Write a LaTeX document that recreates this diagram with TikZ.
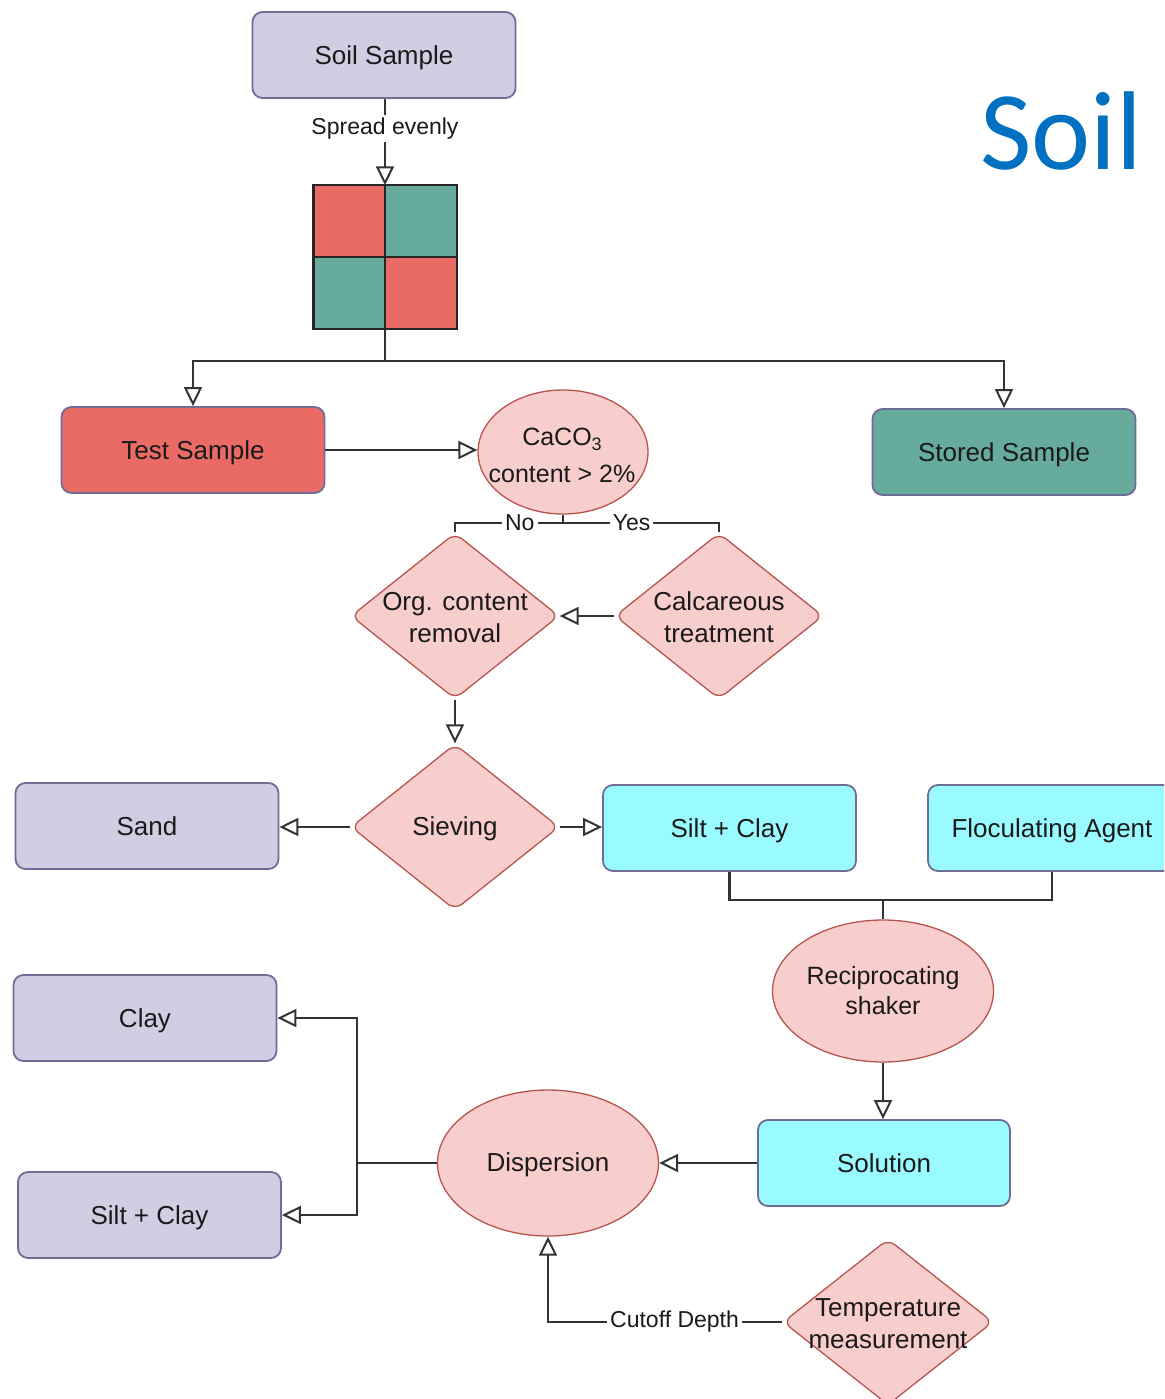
\documentclass[tikz,border=0pt]{standalone}
\usepackage{fontspec}
\setmainfont{Liberation Sans}
\newfontfamily\titlefont{Carlito}
\usetikzlibrary{shapes.geometric,arrows.meta}

\definecolor{lav}{HTML}{D0CEE2}
\definecolor{lavline}{HTML}{706C98}
\definecolor{pinkfill}{HTML}{F8CECC}
\definecolor{pinkline}{HTML}{B85450}
\definecolor{redfill}{HTML}{EA6B66}
\definecolor{tealfill}{HTML}{67AB9F}
\definecolor{cyanfill}{HTML}{99FBFF}
\definecolor{wire}{HTML}{333333}
\definecolor{txt}{HTML}{1A1A1A}
\definecolor{titleblue}{HTML}{0070C0}

\tikzset{
  box/.style={rectangle, rounded corners=10pt, draw=lavline, line width=1.8pt,
    minimum width=263pt, minimum height=86pt, inner sep=0pt,
    text height=18.5pt, text depth=0pt,
    font=\fontsize{26}{31}\selectfont, text=txt},
  oval/.style={ellipse, draw=pinkline, fill=pinkfill, line width=1.3pt, inner sep=0pt},
  dia/.style={diamond, draw=pinkline, fill=pinkfill, line width=1.3pt,
    rounded corners=9pt, minimum width=208pt, minimum height=166pt, inner sep=0pt},
  inner/.style={align=center, inner sep=0pt, font=\fontsize{26}{32}\selectfont, text=txt},
  plain/.style={draw=wire, line width=2.2pt},
  link/.style={plain, -{Triangle[open, length=19pt, width=18pt, line width=2pt]}},
  elabel/.style={fill=white, inner sep=3pt, font=\fontsize{23}{26}\selectfont, text=txt},
}

\begin{document}
\begin{tikzpicture}[x=1pt, y=-1pt]
\useasboundingbox (0,0) rectangle (1164,1399);
\clip (0,0) rectangle (1164,1399);

% title
\node[anchor=base west, inner sep=0pt, text=titleblue,
      font=\titlefont\fontsize{112}{112}\selectfont] (title) at (980,170) {Soil};

% sample preparation
\node[box, fill=lav] (soil) at (384,55) {Soil Sample};

\node[minimum size=143pt, inner sep=0pt] (grid) at (385,257) {};
\fill[redfill]  (grid.north west) rectangle (grid.center);
\fill[tealfill] (grid.north east) rectangle (grid.center);
\fill[tealfill] (grid.south west) rectangle (grid.center);
\fill[redfill]  (grid.south east) rectangle (grid.center);
\draw[line width=2.4pt, black!85] (grid.north west) rectangle (grid.south east)
  (grid.north) -- (grid.south) (grid.west) -- (grid.east);

\node[box, fill=redfill] (test) at (193,450) {Test Sample};
\node[box, fill=tealfill] (stored) at (1004,452) {Stored Sample};

\draw[link] (grid.north |- soil.south) -- node[elabel, pos=0.34] (spread) {Spread evenly} (grid.north);
\draw[plain] (grid.south) -- ++(0,32) coordinate (split);
\draw[link] (split) -| (test.north);
\draw[link] (split) -| (stored.north);

% carbonate check
\node[oval, minimum width=170pt, minimum height=124pt] (caco) at (563,452) {};
\node[inner, font=\fontsize{25}{37}\selectfont] (cacotext) at (562,455)
  {CaCO\raisebox{-0.4ex}{\fontsize{18}{18}\selectfont 3}\\content > 2\%};
\draw[link] (test.east) -- (test.east -| caco.west);

\node[dia] (org) at (455,616) {};
\node[inner] (orgtext) at ([yshift=-2pt]org.center) {Org. content\\removal};
\node[dia] (calc) at (719,616) {};
\node[inner] (calctext) at ([yshift=-1pt]calc.center) {Calcareous\\treatment};

\draw[plain] (caco.south) -- ++(0,8) coordinate (fork);
\draw[plain] (fork) -| node[elabel, pos=0.2] (no) {No} (org.north);
\draw[plain] (fork) -| node[elabel, pos=0.22] (yes) {Yes} (calc.north);
\draw[link] (calc.west) -- (org.east);

% sieving
\node[dia] (sieve) at (455,827) {};
\node[inner] (sievetext) at ([yshift=-2pt]sieve.center) {Sieving};
\draw[link] (org.south) -- (sieve.north);

\node[box, fill=lav] (sand) at (147,826) {Sand};
\node[box, fill=cyanfill, minimum width=253pt] (silt) at (729.5,828) {Silt + Clay};
\node[box, fill=cyanfill, minimum width=248pt] (floc) at (1052,828) {Floculating Agent};
\draw[link] (sieve.west) -- (sieve.west -| sand.east);
\draw[link] (sieve.east) -- (sieve.east -| silt.west);

% shaking
\node[oval, minimum width=221pt, minimum height=142pt] (shaker) at (883,991) {};
\node[inner, font=\fontsize{25}{30}\selectfont] (shakertext) at (shaker.center) {Reciprocating\\shaker};
\coordinate (join) at (883,900);
\draw[plain] (silt.south) |- (join) -| (floc.south);
\draw[plain] (join) -- (shaker.north);

\node[box, fill=cyanfill, minimum width=252pt] (solution) at (884,1163) {Solution};
\draw[link] (shaker.south) -- (shaker.south |- solution.north);

% dispersion
\node[oval, minimum width=221pt, minimum height=146pt] (disp) at (548,1163) {};
\node[inner] (disptext) at ([yshift=-2pt]disp.center) {Dispersion};
\draw[link] (solution.west) -- (disp.east);

\node[box, fill=lav] (clay) at (145,1018) {Clay};
\node[box, fill=lav] (silt2) at (149.5,1215) {Silt + Clay};
\draw[plain] (disp.west) -- (357,1163) coordinate (branch);
\draw[link] (branch) |- (clay.east);
\draw[link] (branch) |- (silt2.east);

\node[dia, minimum width=210pt] (temp) at (888,1322) {};
\node[inner] (temptext) at ([yshift=-2pt]temp.center) {Temperature\\measurement};
\draw[link] (temp.west) -| node[elabel, pos=0.23] (cutoff) {Cutoff Depth} (disp.south);
\end{tikzpicture}
\end{document}
